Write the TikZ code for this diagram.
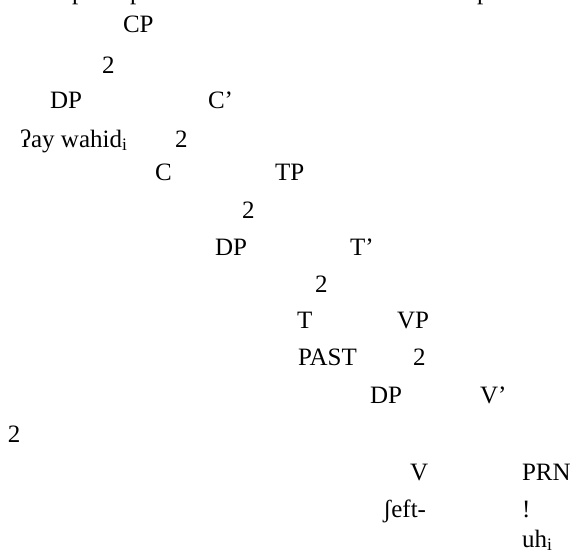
\documentclass[tikz,border=0pt]{standalone}
\usepackage{fontspec}
\setmainfont{Liberation Serif}
\begin{document}
\begin{tikzpicture}[x=1pt,y=-1pt,
  lab/.style={anchor=base west,inner sep=0pt,outer sep=0pt,font=\fontsize{25}{29}\selectfont}]
\useasboundingbox (0,0) rectangle (572,551);
\begin{scope}
\clip (0,0) rectangle (572,551);
\node[lab] (p1) at (72,0) {p};
\node[lab] (p2) at (130,0) {p};
\node[lab] (p3) at (477,0) {p};
\end{scope}
\node[lab] (cp) at (123,33) {CP};
\node[lab] (b1) at (102,73) {2};
\node[lab] (dp1) at (50,108) {DP};
\node[lab] (cbar) at (208,108) {C’};
\node[lab] (aywahid) at (20,147) {ʔay wahid\textsubscript{i}};
\node[lab] (b2) at (175,147) {2};
\node[lab] (c) at (155,180) {C};
\node[lab] (tp) at (275,180) {TP};
\node[lab] (b3) at (242,218) {2};
\node[lab] (dp2) at (215,255) {DP};
\node[lab] (tbar) at (350,255) {T’};
\node[lab] (b4) at (315,292) {2};
\node[lab] (t) at (297,328) {T};
\node[lab] (vp) at (397,328) {VP};
\node[lab] (past) at (298,365) {PAST};
\node[lab] (b5) at (413,365) {2};
\node[lab] (dp3) at (370,403) {DP};
\node[lab] (vbar) at (480,403) {V’};
\node[lab] (b6) at (8,442) {2};
\node[lab] (v) at (410,480) {V};
\node[lab] (prn) at (522,480) {PRN};
\node[lab] (sheft) at (383,517) {ʃeft-};
\node[lab] (excl) at (522,517) {!};
\node[lab] (uh) at (522,547) {uh\textsubscript{i}};
\end{tikzpicture}
\end{document}
